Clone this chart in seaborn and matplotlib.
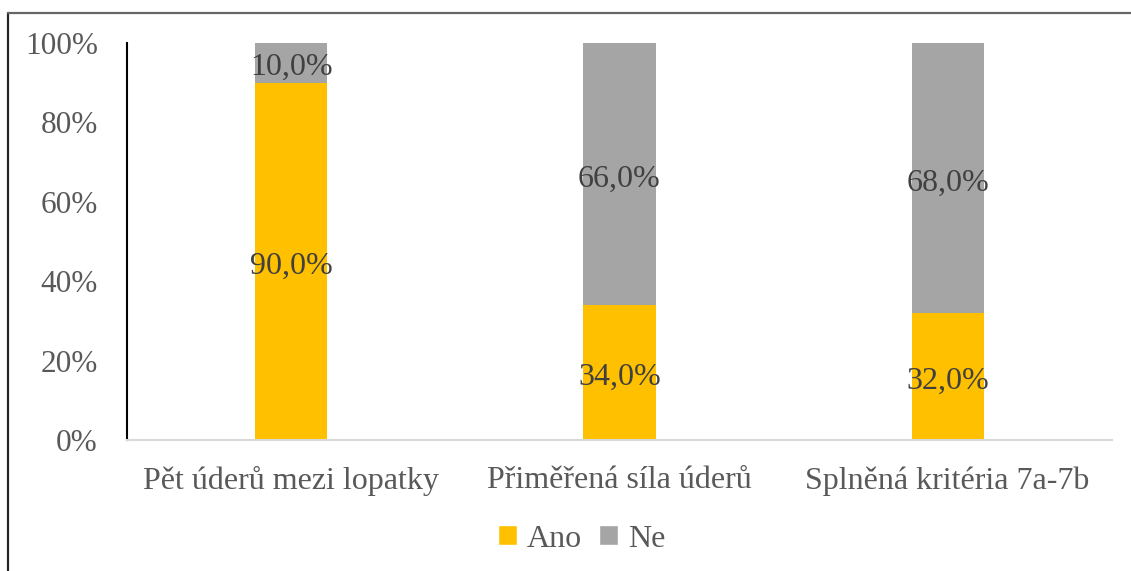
import pandas as pd
import matplotlib.pyplot as plt
import seaborn as sns
from matplotlib.patches import Patch
from matplotlib.lines import Line2D

categories = ['Pět úderů mezi lopatky', 'Přiměřená síla úderů', 'Splněná kritéria 7a-7b']
ano = [90.0, 34.0, 32.0]
ne = [10.0, 66.0, 68.0]

col_ano = '#FFC000'
col_ne = '#A5A5A5'
txt_col = '#595959'
fs = 23

sns.set_theme(style='white')
plt.rcParams['font.family'] = ['Liberation Serif', 'DejaVu Serif']

df = pd.DataFrame({'cat': categories, 'Ano': ano, 'Ne': ne})
df['total'] = df['Ano'] + df['Ne']

fig = plt.figure(figsize=(11.31, 5.71), dpi=100)
ax = fig.add_axes([0.1123, 0.2294, 0.8707, 0.6953])

sns.barplot(data=df, x='cat', y='total', color=col_ne, width=0.22, saturation=1,
            linewidth=0, ax=ax)
sns.barplot(data=df, x='cat', y='Ano', color=col_ano, width=0.22, saturation=1,
            linewidth=0, ax=ax)

for i, (a, n) in enumerate(zip(ano, ne)):
    for val, ypos in [(a, a / 2), (n, a + n / 2)]:
        ax.annotate(f'{val:.1f}%'.replace('.', ','), (i, ypos), xytext=(0, -3.5),
                    textcoords='offset points', ha='center', va='center',
                    fontsize=fs, color='#404040')

ax.set_xlim(-0.5, 2.5)
ax.set_ylim(0, 100)
ax.set_yticks([0, 20, 40, 60, 80, 100])
ax.set_yticklabels([f'{v}%' for v in [0, 20, 40, 60, 80, 100]])
ax.tick_params(axis='y', length=0, pad=21, labelsize=fs - 0.5, labelcolor=txt_col)
ax.tick_params(axis='x', length=0, pad=19, labelsize=fs, labelcolor=txt_col)
ax.set_xlabel('')
ax.set_ylabel('')

for s in ['top', 'right']:
    ax.spines[s].set_visible(False)
ax.spines['left'].set_color('black')
ax.spines['left'].set_linewidth(1.5)
ax.spines['bottom'].set_color('#D9D9D9')
ax.spines['bottom'].set_linewidth(1.5)

handles = [Patch(facecolor=col_ano, label='Ano'), Patch(facecolor=col_ne, label='Ne')]
fig.legend(handles=handles, loc='center', bbox_to_anchor=(0.514, 0.056), ncol=2,
           frameon=False, fontsize=fs, labelcolor=txt_col, handlelength=0.6,
           handleheight=0.6, handletextpad=0.3, columnspacing=0.55)

# outer frame (left and top edges visible)
fig.add_artist(Line2D([0.0075, 0.0075], [0, 0.978], transform=fig.transFigure,
                      color='#262626', linewidth=1.6))
fig.add_artist(Line2D([0.0075, 1.0], [0.978, 0.978], transform=fig.transFigure,
                      color='#666666', linewidth=1.6))

plt.savefig('out.png', dpi=100)
